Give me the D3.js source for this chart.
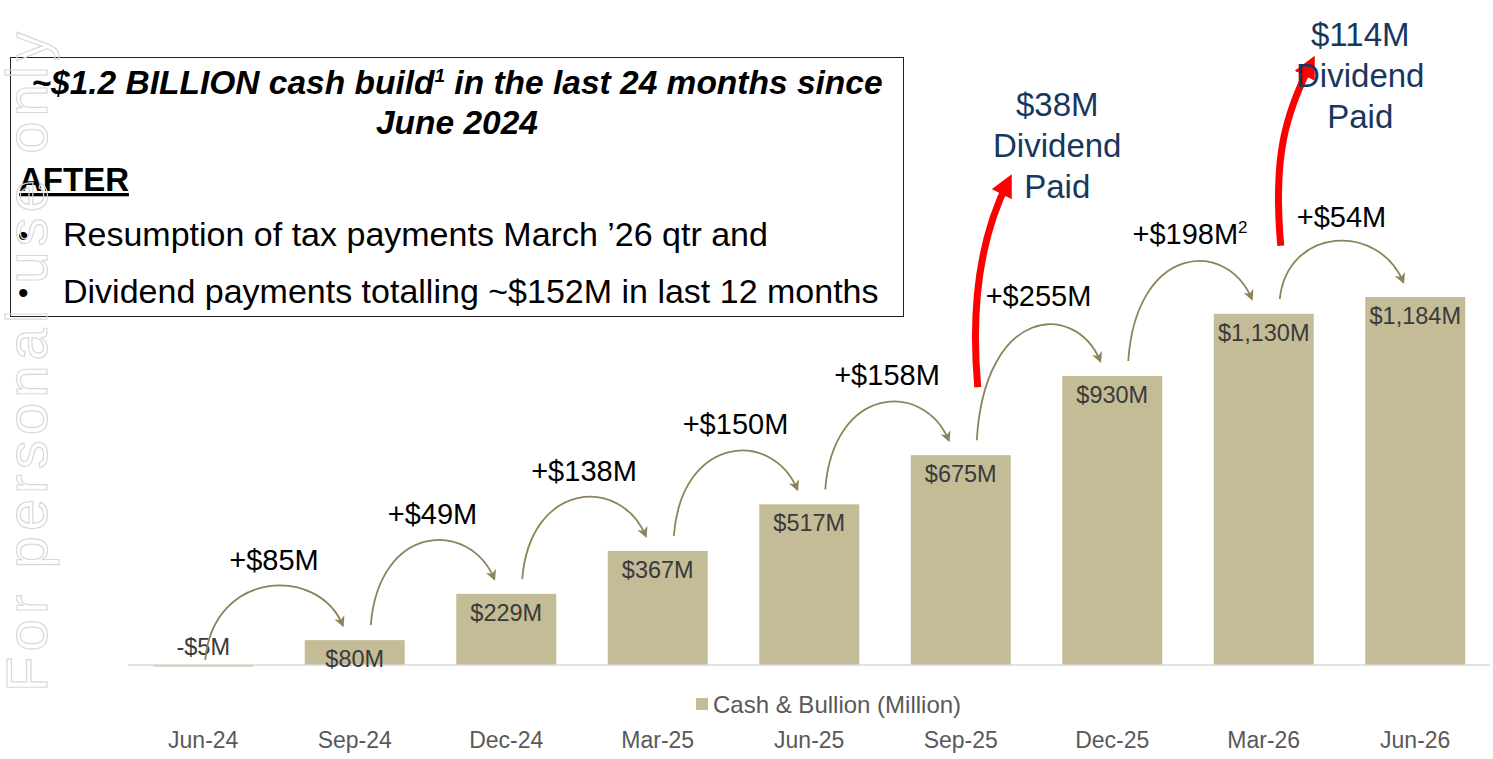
<!DOCTYPE html>
<html><head><meta charset="utf-8">
<script src="https://cdn.jsdelivr.net/npm/d3@7"></script>
<style>body{margin:0;background:#fff;font-family:Arial,"Liberation Sans",sans-serif}</style>
</head><body>
<div class="canva"></div>
<script>
const categories = ['Jun-24','Sep-24','Dec-24','Mar-25','Jun-25','Sep-25','Dec-25','Mar-26','Jun-26'];
const cash = [-5, 80, 229, 367, 517, 675, 930, 1130, 1184];
const valueLabels = ['-$5M','$80M','$229M','$367M','$517M','$675M','$930M','$1,130M','$1,184M'];
const changeLabels = ['+$85M','+$49M','+$138M','+$150M','+$158M','+$255M','+$198M','+$54M'];
const changeSup = ['','','','','','','2',''];
const dividends = [{at: 'Sep-25', label: ['$38M','Dividend','Paid']}, {at: 'Mar-26', label: ['$114M','Dividend','Paid']}];

const W = 1493, H = 759;
const svg = d3.select('.canva').append('svg').attr('width', W).attr('height', H);

const x = d3.scaleBand().domain(categories).range([127.5, 1491]).paddingInner(0.34).paddingOuter(0.17);
const y = d3.scaleLinear().domain([0, 1184]).range([665, 297]);
const cx = d => x(d) + x.bandwidth() / 2;

// bars
svg.selectAll('rect.bar').data(categories).enter().append('rect')
  .attr('class', 'bar')
  .attr('x', d => x(d))
  .attr('width', x.bandwidth())
  .attr('y', (d, i) => Math.min(y(cash[i]), y(0)))
  .attr('height', (d, i) => Math.abs(y(0) - y(cash[i])))
  .attr('fill', '#c4bc96');

svg.append('line').attr('x1', 128).attr('x2', 1490).attr('y1', y(0)).attr('y2', y(0))
  .attr('stroke', '#d9d9d9').attr('stroke-width', 1.5);

// value labels
svg.selectAll('text.val').data(categories).enter().append('text')
  .attr('x', cx)
  .attr('y', (d, i) => (cash[i] < 20 ? y(0) - 10 : y(cash[i]) + 27))
  .attr('text-anchor', 'middle').attr('font-size', 23.5).attr('fill', '#3a3a3a')
  .text((d, i) => valueLabels[i]);

// axis labels
svg.selectAll('text.cat').data(categories).enter().append('text')
  .attr('x', cx).attr('y', 748).attr('text-anchor', 'middle')
  .attr('font-size', 23).attr('fill', '#595959').text(d => d);

// legend
svg.append('rect').attr('x', 696).attr('y', 698).attr('width', 12).attr('height', 12).attr('fill', '#c4bc96');
svg.append('text').attr('x', 713).attr('y', 713).attr('font-size', 24).attr('fill', '#595959').text('Cash & Bullion (Million)');

// arrowheads
const defs = svg.append('defs');
defs.append('marker').attr('id', 'olive').attr('viewBox', '0 0 10 10').attr('refX', 8).attr('refY', 5)
  .attr('markerWidth', 6).attr('markerHeight', 6).attr('orient', 'auto-start-reverse')
  .append('path').attr('d', 'M0,0 L10,5 L0,10 L3,5 Z').attr('fill', '#8c8458');
defs.append('marker').attr('id', 'red').attr('viewBox', '0 0 10 10').attr('refX', 6).attr('refY', 5)
  .attr('markerWidth', 3.2).attr('markerHeight', 3.2).attr('orient', 'auto')
  .append('path').attr('d', 'M0,0 L10,5 L0,10 Z').attr('fill', '#ff0000');

// change arcs
changeLabels.forEach((lab, i) => {
  const x0 = cx(categories[i]) + 2 + (i > 0 ? 14 : 0);
  const y0 = i === 0 ? y(0) - 5 : y(cash[i]) - 15;
  const x1 = cx(categories[i + 1]) - 12;
  const y1 = y(cash[i + 1]) - 15;
  const top = Math.min(y0, y1);
  const ctrl = top - 55;
  const mx = (x0 + x1) / 2;
  svg.append('path')
    .attr('d', `M${x0},${y0} C${x0 + 8},${ctrl} ${x1 - 25},${ctrl - 5} ${x1},${y1}`)
    .attr('fill', 'none').attr('stroke', '#8c8458').attr('stroke-width', 1.8)
    .attr('marker-end', 'url(#olive)');
  const t = svg.append('text').attr('x', mx).attr('y', top - 55).attr('text-anchor', 'middle')
    .attr('font-size', 29).attr('fill', '#000').text(lab);
  if (changeSup[i]) t.append('tspan').attr('font-size', 17).attr('dy', -11).text(changeSup[i]);
});

// dividend arrows
dividends.forEach(dv => {
  const i = categories.indexOf(dv.at);
  const x0 = cx(dv.at) + 17, y0 = y(cash[i]) - 68;
  const x1 = x0 + 30, y1 = y0 - (i === 5 ? 205 : 182);
  svg.append('path').attr('d', `M${x0},${y0} C${x0 - 8},${y0 - 90} ${x0 + 5},${y1 + 50} ${x1},${y1}`)
    .attr('fill', 'none').attr('stroke', '#ff0000').attr('stroke-width', 7)
    .attr('marker-end', 'url(#red)');
  const tx = cx(categories[i + 1]) - 55;
  const ty = i === 5 ? 116 : 46;
  dv.label.forEach((s, k) => svg.append('text').attr('x', tx).attr('y', ty + k * 41)
    .attr('text-anchor', 'middle').attr('font-size', 33).attr('fill', '#17375e').text(s));
});

// text box
svg.append('rect').attr('x', 10.5).attr('y', 57.5).attr('width', 893).attr('height', 259)
  .attr('fill', '#fff').attr('stroke', '#222').attr('stroke-width', 1);
const t1 = svg.append('text').attr('x', 457).attr('y', 94).attr('text-anchor', 'middle')
  .attr('font-size', 33.5).attr('font-weight', 'bold').attr('font-style', 'italic');
t1.append('tspan').text('~$1.2 BILLION cash build');
t1.append('tspan').attr('font-size', 19).attr('dy', -12).text('1');
t1.append('tspan').attr('dy', 12).text(' in the last 24 months since');
svg.append('text').attr('x', 457).attr('y', 134).attr('text-anchor', 'middle')
  .attr('font-size', 33.5).attr('font-weight', 'bold').attr('font-style', 'italic').text('June 2024');
svg.append('text').attr('x', 19).attr('y', 191).attr('font-size', 33).attr('font-weight', 'bold')
  .attr('text-decoration', 'underline').text('AFTER');
[['Resumption of tax payments March \u201926 qtr and', 246], ['Dividend payments totalling ~$152M in last 12 months', 303]].forEach(([s, yy]) => {
  svg.append('text').attr('x', 18).attr('y', yy).attr('font-size', 30).text('\u2022');
  svg.append('text').attr('x', 63).attr('y', yy).attr('font-size', 34).text(s);
});

// watermark
svg.append('text').attr('transform', 'translate(47,692) rotate(-90)')
  .attr('font-size', 58).attr('fill', 'none').attr('stroke', '#d8d8d8').attr('stroke-width', 1.2)
  .attr('textLength', 660).text('For personal use only');
</script>
</body></html>
